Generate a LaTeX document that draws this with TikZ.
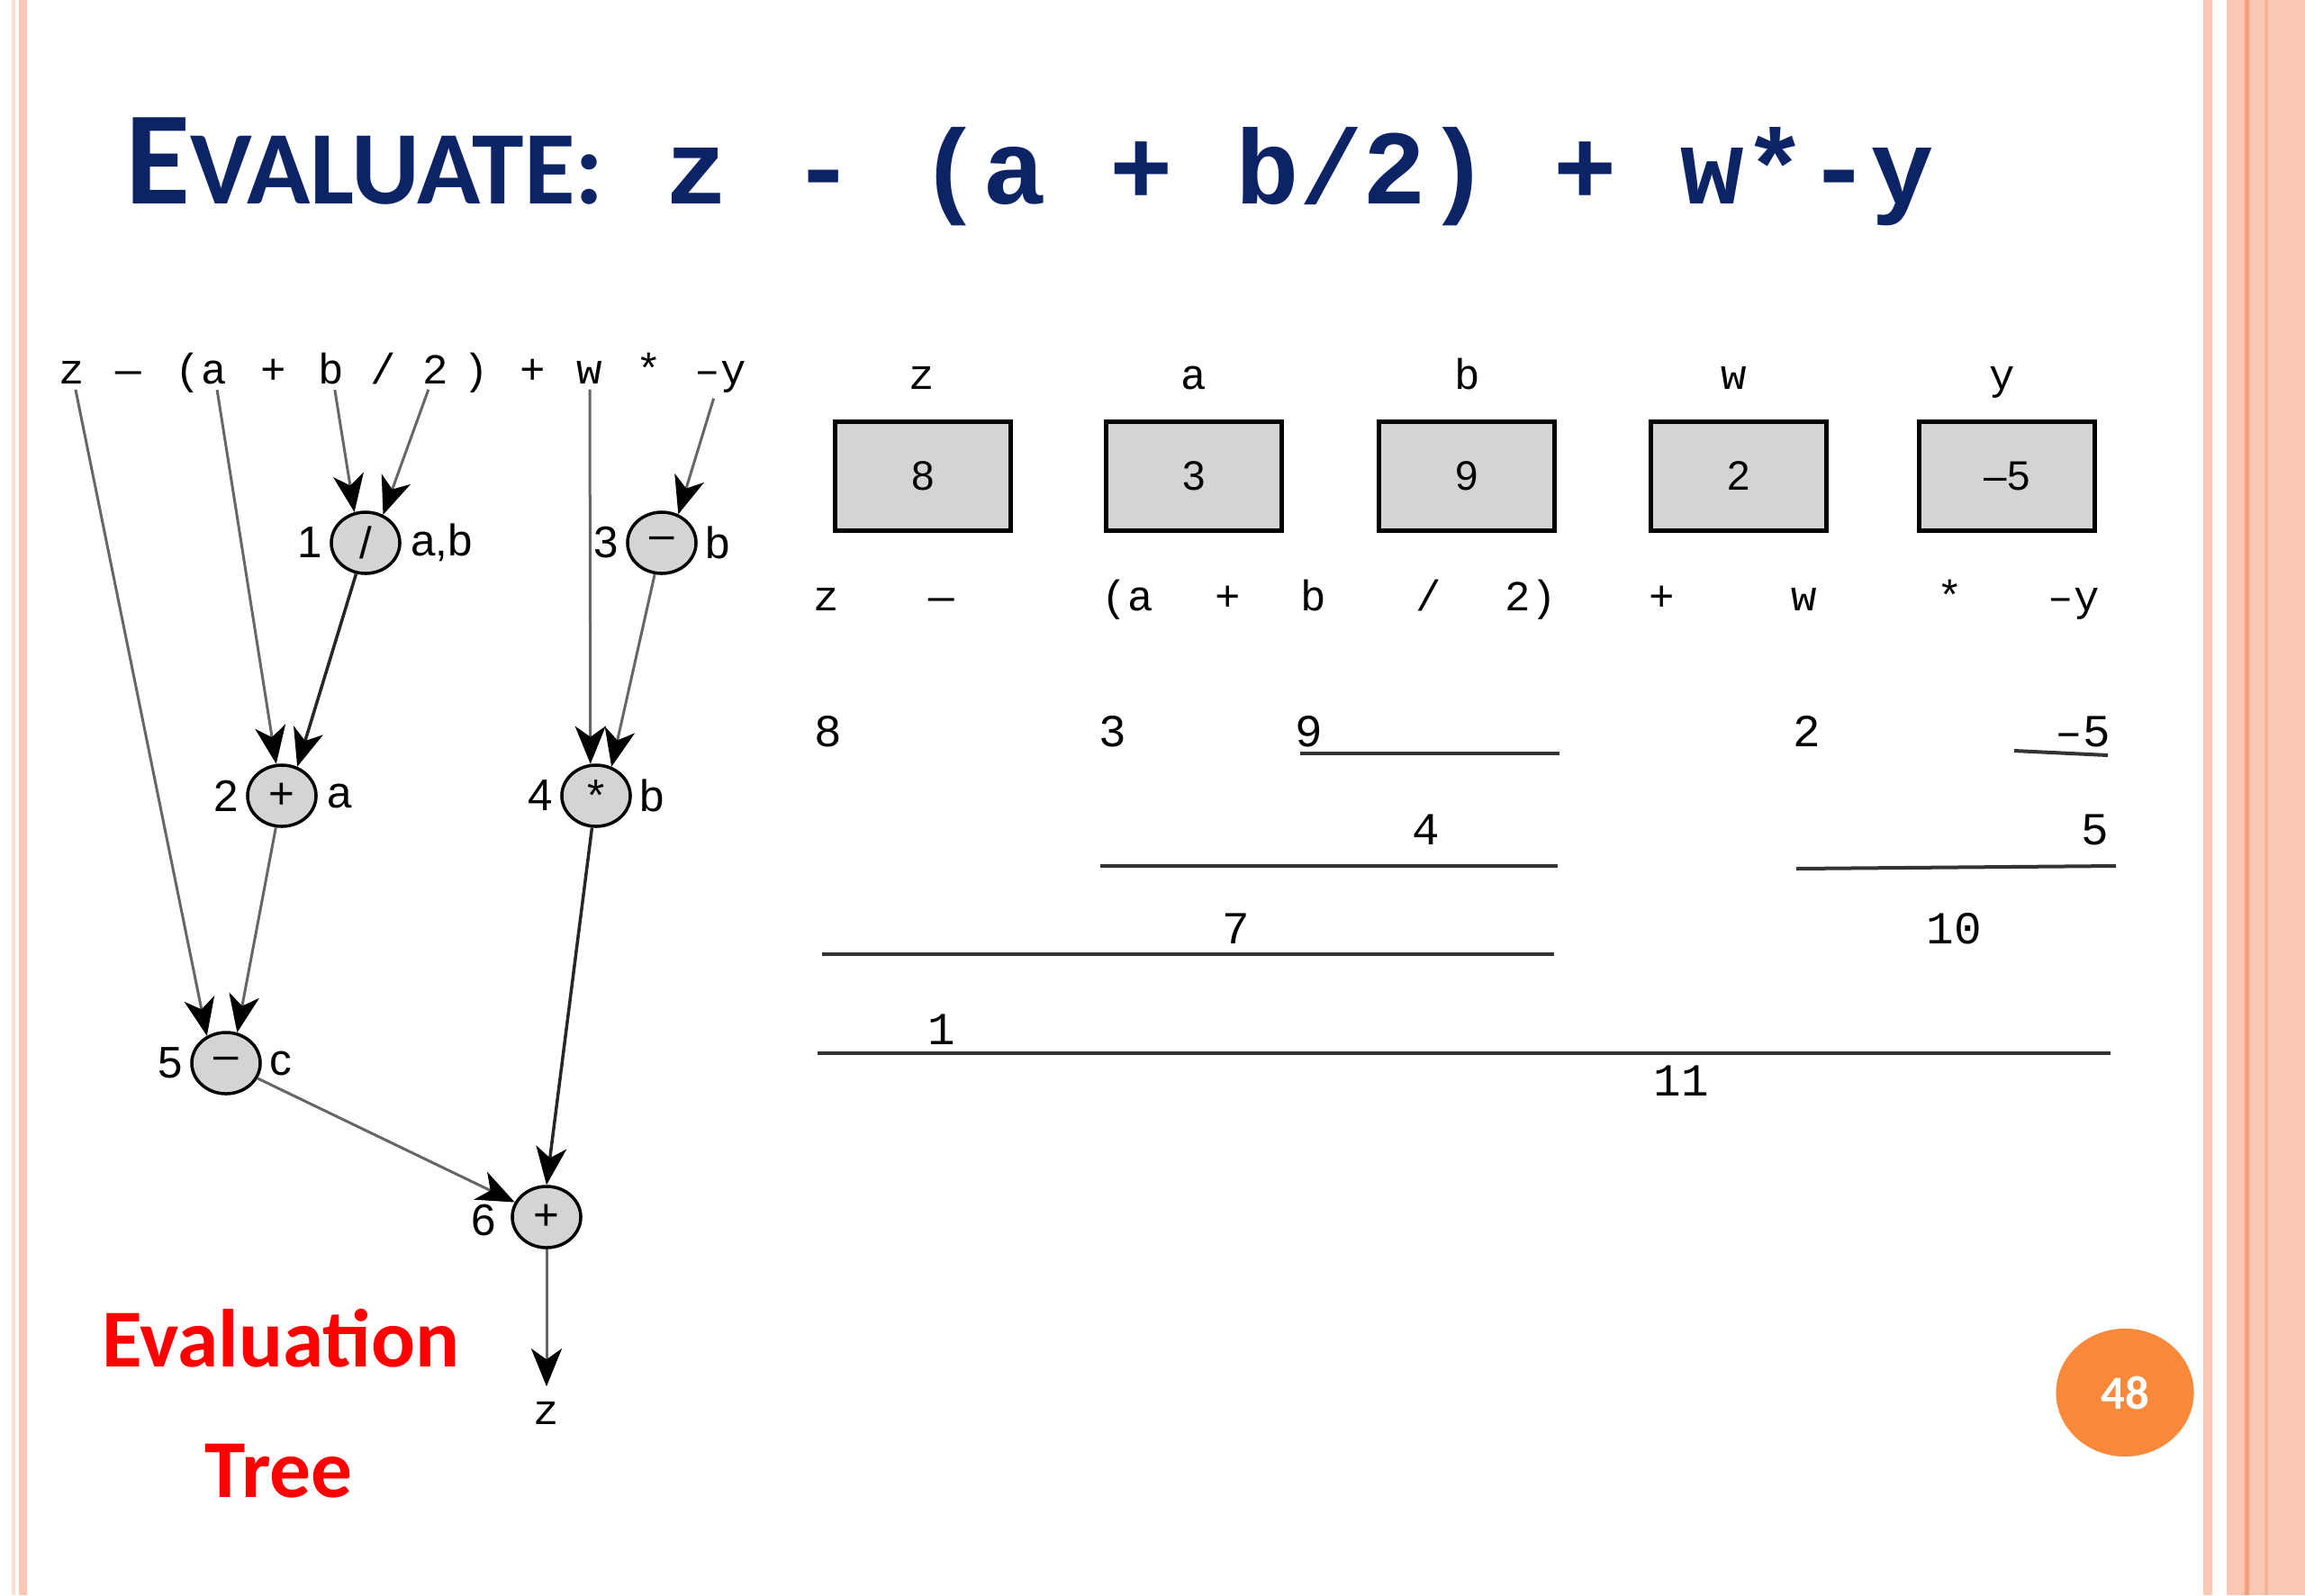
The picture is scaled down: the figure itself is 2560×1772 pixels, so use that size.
\documentclass[tikz,border=0pt]{standalone}
\usepackage{fontspec}
\usepackage{graphicx}
\usepackage{tikz}
\usetikzlibrary{arrows.meta,positioning,shapes.geometric}
\setmainfont{Liberation Sans}
\newfontfamily\calibri{Carlito}
\newfontfamily\courier{Liberation Mono}
\definecolor{SlideNavy}{HTML}{0C2466}
\definecolor{SlideOrange}{HTML}{F8883A}
\definecolor{BorderPink}{HTML}{FCC8B3}
\definecolor{BorderDark}{HTML}{F7A07A}
\definecolor{OpGray}{HTML}{D4D4D4}

\tikzset{
  op/.style={ellipse,draw,line width=0.035cm,fill=OpGray,minimum width=0.76cm,
    minimum height=0.68cm,inner sep=0pt,font=\fontsize{14}{16}\selectfont},
  lab/.style={inner sep=0pt,font=\fontsize{14}{16}\selectfont},
  tok/.style={inner sep=0.06cm,anchor=base,font=\courier\fontsize{13.5}{15}\selectfont},
  num/.style={inner sep=0pt,anchor=base,font=\courier\fontsize{14.5}{16}\selectfont},
  cell/.style={draw,line width=0.05cm,fill=OpGray,minimum width=1.94cm,
    minimum height=1.21cm,inner sep=0pt,font=\fontsize{13}{15}\selectfont},
  edge/.style={-{Stealth[length=0.42cm,width=0.34cm,inset=0.12cm,color=black]},
    black!60,line width=0.03cm},
  edgedark/.style={edge,black!85,line width=0.035cm},
  bar/.style={black!80,line width=0.04cm},
}

\begin{document}
\begin{tikzpicture}[x=0.01cm,y=-0.01cm]
\useasboundingbox (0,0) rectangle (2560,1772);
% slide borders
\fill[BorderPink!60] (13,0) rectangle (17,1772);
\fill[BorderPink] (21,0) rectangle (30,1772);
\fill[BorderPink] (2447,0) rectangle (2457,1772);
\fill[BorderPink] (2473,0) rectangle (2560,1772);
\fill[BorderDark] (2493,0) rectangle (2498,1772);
\fill[BorderDark!50!BorderPink] (2515,0) rectangle (2519,1772);

% title
\node[anchor=base west,inner sep=0pt,text=SlideNavy,font=\calibri\bfseries] (title) at (139,226)
  {\fontsize{42}{44}\selectfont E\fontsize{33}{35}\selectfont VALUATE:};
\node[anchor=base west,inner sep=0pt,text=SlideNavy,font=\courier\bfseries\fontsize{33.4}{36}\selectfont]
  (expr) at (738,226) {z - (a + b/2) + w*-y};

% expression over the tree
\node[tok] (hz) at (80,426) {z};
\node[tok] (hm) at (143,426) {—};
\node[tok] (hl) at (209,426) {(};
\node[tok] (ha) at (238,426) {a};
\node[tok] (hp) at (304,426) {+};
\node[tok] (hb) at (368,426) {b};
\node[tok] (hd) at (426,426) {/};
\node[tok] (h2) at (484,426) {2};
\node[tok] (hr) at (529,426) {)};
\node[tok] (hq) at (592,426) {+};
\node[tok] (hw) at (655,426) {w};
\node[tok] (hs) at (721,426) {*};
\node[tok] (hy) at (800,426) {–y};

% operator nodes
\node[op] (n1) at (406,603) {/};
\node[op] (n3) at (735,603) {–};
\node[op] (n2) at (313,884) {+};
\node[op] (n4) at (662,884) {*};
\node[op] (n5) at (251,1181) {–};
\node[op] (n6) at (607,1352) {+};
\node[lab,left=0.08cm of n1] (l1) {1};
\node[lab,right=0.1cm of n1] (r1) {a,b};
\node[lab,left=0.08cm of n3] (l3) {3};
\node[lab,right=0.08cm of n3] (r3) {b};
\node[lab,left=0.08cm of n2] (l2) {2};
\node[lab,right=0.1cm of n2] (r2) {a};
\node[lab,left=0.08cm of n4] (l4) {4};
\node[lab,right=0.08cm of n4] (r4) {b};
\node[lab,left=0.08cm of n5] (l5) {5};
\node[lab,right=0.08cm of n5] (r5) {c};
\node[lab,left=0.16cm of n6,yshift=-0.04cm] (l6) {6};
\node[tok] (zout) at (607,1582) {z};

\draw[edge] (hb) -- (n1.110);
\draw[edge] (h2) -- (n1.58);
\draw[edge] (hy) -- (n3.60);
\draw[edge] (ha) -- (n2.100);
\draw[edgedark] (n1) -- (n2.62);
\draw[edge] (hw) -- (n4.100);
\draw[edge] (n3) -- (n4.62);
\draw[edge] (hz) -- (n5.125);
\draw[edge] (n2) -- (n5.70);
\draw[edgedark] (n4) -- (n6.north);
\draw[edge] (n5) -- (n6.155);
\draw[edge,shorten >=0.1cm] (n6) -- (zout);

\node[text=red,anchor=base,font=\calibri\bfseries\fontsize{26}{30}\selectfont] (ev) at (312,1518) {Evaluation};
\node[text=red,anchor=base,font=\calibri\bfseries\fontsize{26}{30}\selectfont] (tr) at (310,1663) {Tree};

% variables in memory
\node[tok] (vz) at (1024,432) {z};
\node[tok] (va) at (1326,432) {a};
\node[tok] (vb) at (1630,432) {b};
\node[tok] (vw) at (1926,432) {w};
\node[tok] (vy) at (2224,432) {y};
\node[cell] (bz) at (1025,529) {8};
\node[cell] (ba) at (1326,529) {3};
\node[cell] (bb) at (1629,529) {9};
\node[cell] (bw) at (1931,529) {2};
\node[cell] (by) at (2229,529) {–5};

% expression and partial results
\node[tok] (ez) at (918,678) {z};
\node[tok] (em) at (1046,678) {—};
\node[tok] (el) at (1252,678) {(a};
\node[tok] (ep) at (1364,678) {+};
\node[tok] (eb) at (1459,678) {b};
\node[tok] (ed) at (1587,678) {/};
\node[tok] (e2) at (1700,678) {2)};
\node[tok] (eq) at (1846,678) {+};
\node[tok] (ew) at (2004,678) {w};
\node[tok] (es) at (2166,678) {*};
\node[tok] (ey) at (2303,678) {–y};

\node[num] (v8) at (920,829) {8};
\node[num] (v3) at (1236,829) {3};
\node[num] (v9) at (1454,829) {9};
\node[num] (v2) at (2007,829) {2};
\node[num] (vm5) at (2313,829) {–5};
\draw[bar] (1444,837) -- (1732,837);
\draw[bar] (2237,834) -- (2341,839);
\node[num] (v4) at (1584,938) {4};
\node[num] (v5) at (2327,938) {5};
\draw[bar] (1222,962) -- (1730,962);
\draw[bar] (1995,965) -- (2350,962);
\node[num] (v7) at (1373,1048) {7};
\node[num] (v10) at (2170,1048) {10};
\draw[bar] (913,1060) -- (1726,1060);
\node[num] (v1) at (1046,1160) {1};
\draw[bar] (908,1170) -- (2344,1170);
\node[num] (v11) at (1867,1217) {11};

% page number
\node[ellipse,fill=SlideOrange,minimum width=1.53cm,minimum height=1.42cm,text=white,
  font=\calibri\bfseries\fontsize{15}{17}\selectfont] (pg) at (2360,1547) {48};
\end{tikzpicture}
\end{document}
